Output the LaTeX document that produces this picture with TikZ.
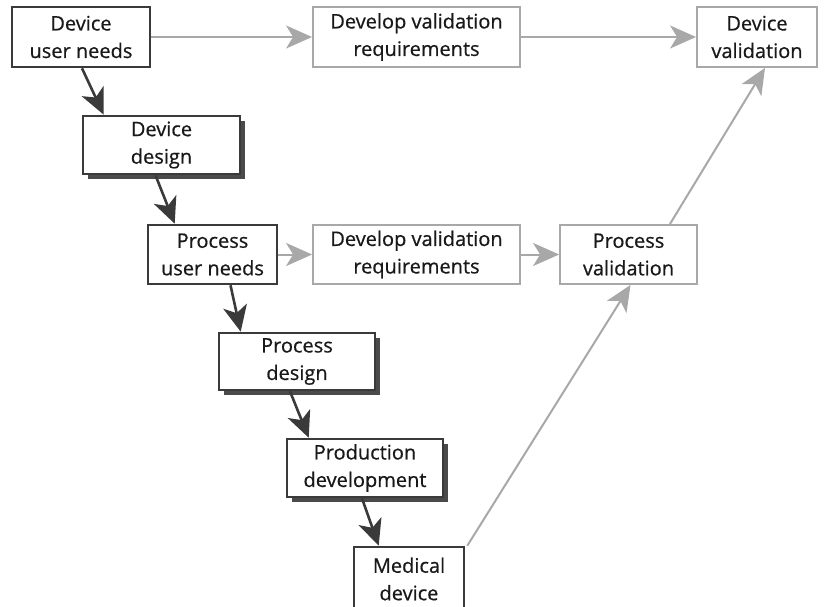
\documentclass[tikz,border=0pt]{standalone}
\usepackage{fontspec}
\setmainfont{Open Sans}
\newfontfamily\boxfont{Open Sans}[FakeBold=0.6]
\usetikzlibrary{arrows.meta,shadows,positioning}
\definecolor{darkb}{HTML}{3A3A3A}
\definecolor{lightb}{HTML}{A8A8A8}
\definecolor{shad}{HTML}{4A4A4A}
\tikzset{
  base/.style={rectangle, align=center, inner sep=0pt, font=\boxfont\fontsize{20}{27.5}\selectfont, text=black!90, fill=white},
  darkbox/.style={base, draw=darkb, line width=2.6pt},
  shadbox/.style={darkbox, drop shadow={shadow xshift=5pt, shadow yshift=-5pt, fill=shad, opacity=1}},
  lightbox/.style={base, draw=lightb, line width=1.8pt},
  darkarrow/.style={draw=darkb, line width=2.6pt, -{Stealth[length=26pt,width=24pt,inset=7pt]}},
  lightarrow/.style={draw=lightb, line width=2pt, -{Stealth[length=26pt,width=23pt,inset=7pt]}},
}
\begin{document}
\begin{tikzpicture}[x=1pt,y=-1pt]
\useasboundingbox (0,0) rectangle (828,607);
% nodes: centre, width, height
\node[darkbox, minimum width=138pt, minimum height=60pt] (dun) at (81,37) {Device\\user needs};
\node[lightbox, minimum width=207pt, minimum height=60pt] (dvr1) at (416.5,37) {Develop validation\\requirements};
\node[lightbox, minimum width=120pt, minimum height=60pt] (dv) at (757,37) {Device\\validation};
\node[shadbox, minimum width=157pt, minimum height=58pt] (dd) at (161.5,145) {Device\\design};
\node[darkbox, minimum width=129pt, minimum height=59pt] (pun) at (212.5,254.5) {Process\\user needs};
\node[lightbox, minimum width=207pt, minimum height=59pt] (dvr2) at (416.5,254.5) {Develop validation\\requirements};
\node[lightbox, minimum width=137pt, minimum height=59pt] (pv) at (628.5,254.5) {Process\\validation};
\node[shadbox, minimum width=156pt, minimum height=57pt] (pd) at (297,361.5) {Process\\design};
\node[shadbox, minimum width=156pt, minimum height=58pt] (prod) at (365,468) {Production\\development};
\node[darkbox, minimum width=110pt, minimum height=64pt] (md) at (409,579) {Medical\\device};
% dark arrows
\draw[darkarrow] ([xshift=1pt]dun.south) -- ([xshift=22pt]dd.north west);
\draw[darkarrow] ([xshift=-6pt]dd.south) -- ([xshift=28pt]pun.north west);
\draw[darkarrow] ([xshift=18pt]pun.south) -- ([xshift=23pt]pd.north west);
\draw[darkarrow] ([xshift=-7pt]pd.south) -- ([xshift=23pt]prod.north west);
\draw[darkarrow] ([xshift=-3pt]prod.south) -- ([xshift=26pt]md.north west);
% light arrows
\draw[lightarrow] (dun.east) -- (dvr1.west);
\draw[lightarrow] (dvr1.east) -- (dv.west);
\draw[lightarrow] (pun.east) -- (dvr2.west);
\draw[lightarrow] (dvr2.east) -- (pv.west);
\draw[lightarrow] ([xshift=2pt]md.north east) -- ([xshift=2pt]pv.south);
\draw[lightarrow] ([xshift=-28pt]pv.north east) -- ([xshift=8pt]dv.south);
\end{tikzpicture}
\end{document}
